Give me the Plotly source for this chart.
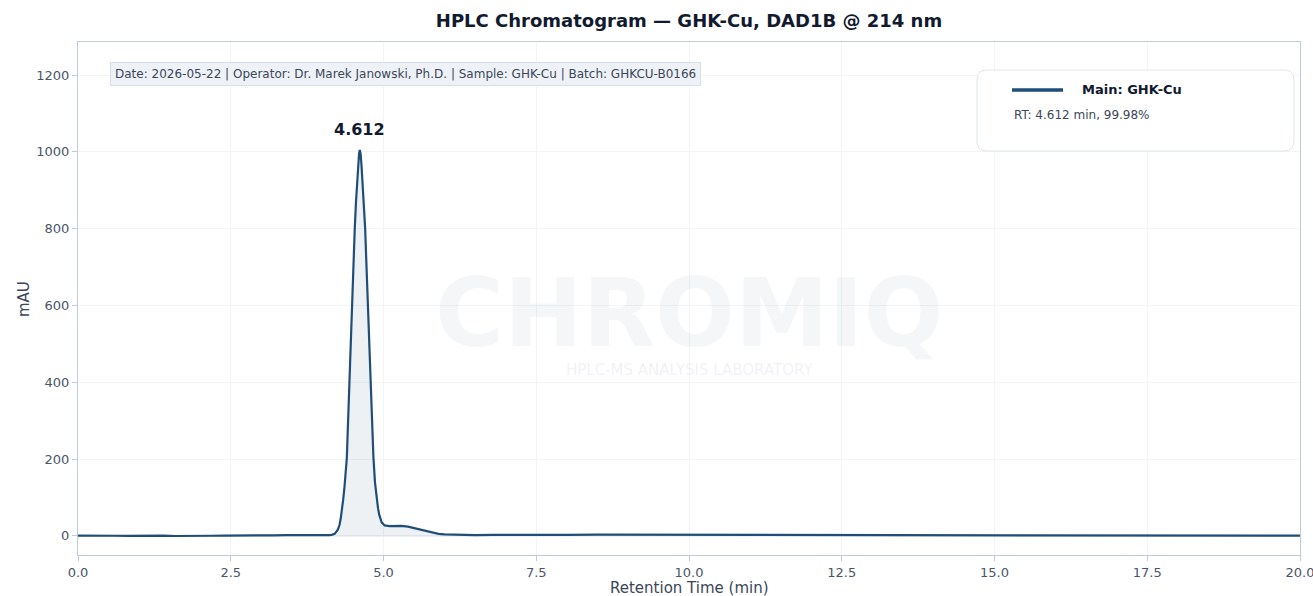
import plotly.graph_objects as go

# Retention time (min) and detector response (mAU)
rt_min = [0.0, 0.2, 0.4, 0.6, 0.8, 1.0, 1.2, 1.4, 1.6, 1.8, 2.0, 2.2, 2.4, 2.6, 2.8,
          3.0, 3.2, 3.4, 3.6, 3.8, 4.0, 4.1, 4.15, 4.2, 4.25, 4.28, 4.3, 4.32, 4.34, 4.36,
          4.38, 4.40, 4.41, 4.42, 4.43, 4.44, 4.46, 4.48, 4.50, 4.53, 4.55, 4.57, 4.59,
          4.60, 4.612, 4.625, 4.64, 4.66, 4.68, 4.70, 4.72, 4.745, 4.765, 4.785, 4.81,
          4.835, 4.86, 4.875, 4.89, 4.91, 4.93, 4.95, 4.97, 5.0, 5.02, 5.1, 5.2, 5.3,
          5.4, 5.5, 5.6, 5.7, 5.8, 5.9, 6.0, 6.2,
          6.5, 6.8, 7.0, 7.5, 8.0, 8.5, 9.0, 9.5, 10.0, 10.5, 11.0, 11.5, 12.0, 12.5,
          13.0, 13.5, 14.0, 14.5, 15.0, 15.5, 16.0, 16.5, 17.0, 17.5, 18.0, 18.5,
          19.0, 19.5, 20.0]
mau = [0.3, -0.4, 0.5, 0.1, -0.3, 0.4, -0.2, 0.2, -0.5, 0.3, 0.6, 0.1, 0.5, 0.3, 0.9,
       0.6, 1.2, 1.5, 1.1, 1.3, 1.4, 1.8, 2.5, 5.0, 15.0, 28.0, 45.0, 66.0, 94.0, 125.0,
       165.0, 203.0, 250.0, 300.0, 350.0, 402.0, 500.0, 601.0, 680.0, 802.0, 870.0, 935.0, 978.0,
       995.0, 1005.0, 995.0, 965.0, 915.0, 860.0, 800.0, 710.0, 600.0, 500.0, 400.0, 295.0,
       205.0, 140.0, 115.0, 95.0, 72.0, 55.0, 43.0, 35.0, 30.0, 27.0, 25.0, 26.0, 26.0,
       24.0, 20.0, 16.0, 12.0, 8.0, 5.0, 3.5, 2.5,
       2.0, 2.2, 2.0, 2.6, 2.4, 2.9, 2.7, 3.1, 3.3, 3.0, 3.2, 2.8, 3.0, 2.6,
       2.9, 2.7, 2.8, 2.2, 1.9, 1.6, 1.8, 1.2, 1.3, 0.8, 1.0, 0.5,
       0.6, 0.2, 0.2]

peak_rt = 4.612
peak_mau = 1005.0
peak_label = "4.612"
trace_name = "Main: GHK-Cu"
legend_sub = "RT: 4.612 min, 99.98%"
info_text = "Date: 2026-05-22 | Operator: Dr. Marek Janowski, Ph.D. | Sample: GHK-Cu | Batch: GHKCU-B0166"
title_text = "HPLC Chromatogram — GHK-Cu, DAD1B @ 214 nm"
x_title = "Retention Time (min)"
y_title = "mAU"
x_ticks = [0, 2.5, 5, 7.5, 10, 12.5, 15, 17.5, 20]
y_ticks = [0, 200, 400, 600, 800, 1000, 1200]

LINE = "#1f4e79"
FONT = "DejaVu Sans"

fig = go.Figure()
fig.add_trace(go.Scatter(
    x=rt_min, y=mau, mode="lines", name=trace_name,
    line=dict(color=LINE, width=2.2), fill="tozeroy",
    fillcolor="rgba(31,78,121,0.08)", showlegend=False, hoverinfo="x+y"))

# plot area in pixels: x 78..1300, y 42..555
W, H = 1222.0, 513.0
def px(xp):
    return (xp - 78) / W
def py(yp):
    return (555 - yp) / H

# rounded legend box via pixel-sized path
bw, bh, r = 317, 81, 10
path = (f"M {r},0 L {bw-r},0 Q {bw},0 {bw},{-r} L {bw},{-bh+r} Q {bw},{-bh} {bw-r},{-bh} "
        f"L {r},{-bh} Q 0,{-bh} 0,{-bh+r} L 0,{-r} Q 0,0 {r},0 Z")
fig.add_shape(type="path", xref="paper", yref="paper", xsizemode="pixel", ysizemode="pixel",
              xanchor=px(977), yanchor=py(70), path=path,
              fillcolor="white", line=dict(color="#dfe5ee", width=1), layer="above")
fig.add_shape(type="line", xref="paper", yref="paper", x0=px(1012), x1=px(1063),
              y0=py(90), y1=py(90), line=dict(color=LINE, width=3.5), layer="above")

annotations = [
    dict(text="CHROMIQ", x=0.5, y=py(313), xref="paper", yref="paper", showarrow=False,
         font=dict(family=FONT, size=94, color="rgba(160,170,185,0.11)", weight="bold")),
    dict(text="HPLC-MS ANALYSIS LABORATORY", x=0.5, y=py(370), xref="paper", yref="paper",
         showarrow=False, font=dict(family=FONT, size=15, color="rgba(160,170,185,0.17)")),
    dict(text=f"<b>{peak_label}</b>", x=peak_rt, y=peak_mau, xref="x", yref="y",
         showarrow=False, yshift=20, font=dict(family=FONT, size=16, color="#111a2e")),
    dict(text=info_text, x=px(110), y=py(74), xref="paper", yref="paper", xanchor="left",
         yanchor="middle", showarrow=False, bgcolor="#eef2f7", bordercolor="#d6dee9",
         borderwidth=1, borderpad=4, font=dict(family=FONT, size=12, color="#3b4658")),
    dict(text=f"<b>{trace_name}</b>", x=px(1080), y=py(89), xref="paper", yref="paper",
         xanchor="left", yanchor="middle", showarrow=False,
         font=dict(family=FONT, size=13, color="#111a2e")),
    dict(text=legend_sub, x=px(1012), y=py(115), xref="paper", yref="paper",
         xanchor="left", yanchor="middle", showarrow=False,
         font=dict(family=FONT, size=12, color="#3b4658")),
    dict(text=x_title, x=px(689), y=py(588), xref="paper", yref="paper", showarrow=False,
         xanchor="center", yanchor="middle", font=dict(family=FONT, size=15, color="#3b4658")),
    dict(text=y_title, x=px(24), y=py(299), xref="paper", yref="paper", showarrow=False,
         textangle=-90, xanchor="center", yanchor="middle",
         font=dict(family=FONT, size=15, color="#3b4658")),
]

axis_common = dict(showline=True, linecolor="#c0cbdb", linewidth=1, mirror=True,
                   gridcolor="#f2f4f7", ticks="outside", tickcolor="#c0cbdb", ticklen=5,
                   tickfont=dict(family=FONT, size=13, color="#4a5568"),
                   ticklabeloverflow="allow",
                   zeroline=True, zerolinecolor="#eceff3", automargin=False)

fig.update_layout(
    width=1313, height=596,
    margin=dict(l=78, r=13, t=42, b=41, autoexpand=False),
    paper_bgcolor="white", plot_bgcolor="white",
    font=dict(family=FONT, color="#3b4658"),
    title=dict(text=f"<b>{title_text}</b>", x=0.5, xref="paper", y=1 - 21 / 596,
               yanchor="middle", font=dict(family=FONT, size=18, color="#111a2e")),
    xaxis=dict(range=[0, 20], tickvals=x_ticks, tickformat=".1f", **axis_common),
    yaxis=dict(range=[-50, 1286], tickvals=y_ticks, **axis_common),
    annotations=annotations,
    showlegend=False,
)

fig.write_html("out.html", config={"displayModeBar": False},
               post_script="document.body.style.margin='0';document.body.style.padding='0';")
